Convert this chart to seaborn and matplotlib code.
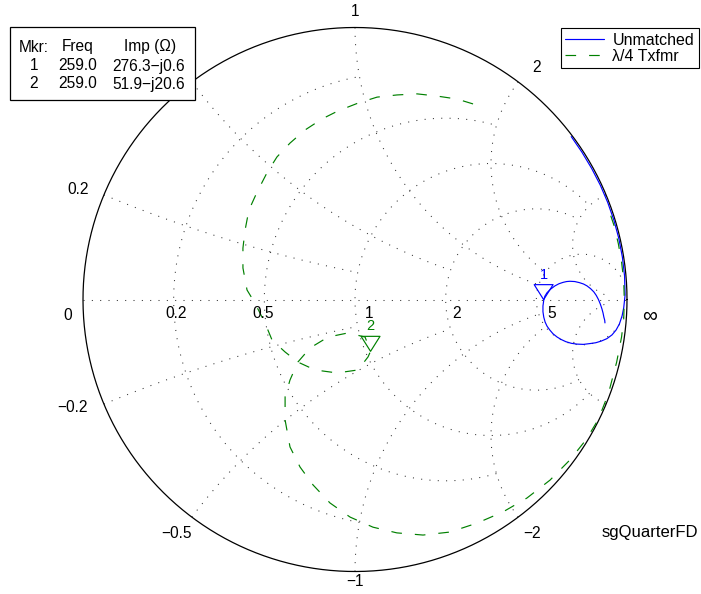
import numpy as np
import pandas as pd
import matplotlib
matplotlib.use("Agg")
import matplotlib.pyplot as plt
import seaborn as sns
from matplotlib.path import Path
from matplotlib.patches import Rectangle

sns.set_theme(style="white")
plt.rcParams['font.family'] = ['Liberation Sans', 'DejaVu Sans']
plt.rcParams['text.color'] = 'black'

# ---------------- data (reflection coefficient) ----------------
unmatched_re = [0.795, 0.834, 0.870, 0.902, 0.929, 0.952, 0.970, 0.983, 0.991, 0.993,
                0.988, 0.982, 0.972, 0.960, 0.945, 0.926, 0.905, 0.885, 0.864, 0.840,
                0.816, 0.795, 0.775, 0.758, 0.743, 0.728, 0.716, 0.706, 0.699, 0.694,
                0.691, 0.691, 0.694, 0.698, 0.706, 0.719, 0.735, 0.750, 0.765, 0.778,
                0.790, 0.808, 0.825, 0.840, 0.853, 0.866, 0.878, 0.887, 0.895, 0.902,
                0.908, 0.912, 0.915, 0.918, 0.919]
unmatched_im = [0.599, 0.542, 0.482, 0.420, 0.357, 0.291, 0.224, 0.156, 0.087, 0.017,
                -0.030, -0.060, -0.090, -0.112, -0.130, -0.144, -0.153, -0.159, -0.162, -0.165,
                -0.164, -0.161, -0.155, -0.147, -0.138, -0.126, -0.112, -0.098, -0.083, -0.065,
                -0.045, -0.024, -0.002, 0.012, 0.025, 0.038, 0.050, 0.058, 0.063, 0.066,
                0.067, 0.066, 0.062, 0.057, 0.050, 0.040, 0.028, 0.015, 0.000, -0.017,
                -0.035, -0.050, -0.065, -0.076, -0.086]

txfmr_re = [0.434, 0.375, 0.301, 0.228, 0.154, 0.081, 0.011, -0.063, -0.121, -0.184,
            -0.239, -0.287, -0.324, -0.360, -0.390, -0.404, -0.412, -0.412, -0.397, -0.368,
            -0.331, -0.305, -0.257, -0.210, -0.147, -0.066, 0.011, 0.048, 0.057, 0.037,
            -0.026, -0.099, -0.165, -0.210, -0.239, -0.257, -0.257, -0.239, -0.202, -0.154,
            -0.092, -0.018, 0.066, 0.154, 0.250, 0.349, 0.449, 0.544, 0.632, 0.717,
            0.790, 0.850, 0.895, 0.932, 0.962, 0.980, 0.988, 0.990, 0.988, 0.980,
            0.968, 0.952, 0.930]
txfmr_im = [0.719, 0.737, 0.748, 0.756, 0.752, 0.744, 0.722, 0.693, 0.664, 0.623,
            0.575, 0.524, 0.465, 0.395, 0.329, 0.256, 0.189, 0.116, 0.035, -0.013,
            -0.086, -0.149, -0.193, -0.230, -0.259, -0.270, -0.259, -0.211, -0.1906, -0.138,
            -0.123, -0.138, -0.178, -0.230, -0.296, -0.358, -0.443, -0.542, -0.616, -0.682,
            -0.748, -0.800, -0.837, -0.858, -0.866, -0.855, -0.822, -0.781, -0.730, -0.664,
            -0.590, -0.515, -0.440, -0.345, -0.230, -0.138, -0.069, 0.000, 0.069, 0.138,
            0.206, 0.273, 0.339]

series_names = ["Unmatched", "λ/4 Txfmr"]

marker_ids = ["1", "2"]
marker_freq = ["259.0", "259.0"]
marker_imp_text = ["276.3\u2212j0.6", "51.9\u2212j20.6"]
marker_Z_re = [276.3, 51.9]
marker_Z_im = [-0.6, -20.6]
Z0 = 50.0

# Smith chart grid values and their end points (chart structure)
grid_values = [0.2, 0.5, 1.0, 2.0, 5.0]
grid_ends = [1.0, 2.0, 5.0, 5.0, 30.0]
r_label_text = ["0.2", "0.5", "1", "2", "5"]

# ---------------- figure ----------------
W, H = 701, 594
fig = plt.figure(figsize=(W / 100, H / 100), dpi=100)
ax = fig.add_axes([0, 0, 1, 1])
CX, CY, R = 355.0, 299.5, 272.0
ax.set_xlim(-CX / R, (W - CX) / R)
ax.set_ylim(-(H - CY) / R, CY / R)
ax.axis("off")


def P(px, py):
    return (px - CX) / R, (CY - py) / R


grid_kw = dict(color="#333333", lw=0.75, linestyle=(0, (1, 7)), zorder=1)

# constant resistance circles
for r, lim in zip(grid_values, grid_ends):
    xs = np.concatenate([-np.logspace(np.log10(lim), -4, 800), np.logspace(-4, np.log10(lim), 800)])
    g = (r + 1j * xs - 1) / (r + 1j * xs + 1)
    ax.plot(g.real, g.imag, **grid_kw)
# constant reactance arcs
for x, lim in zip(grid_values, grid_ends):
    rs = np.linspace(0, lim, 3000)
    for s in (1, -1):
        g = (rs + 1j * s * x - 1) / (rs + 1j * s * x + 1)
        ax.plot(g.real, g.imag, **grid_kw)
ax.plot([-1, 1], [0, 0], **grid_kw)
th = np.linspace(0, 2 * np.pi, 1000)
ax.plot(np.cos(th), np.sin(th), color="black", lw=0.9, zorder=2)

# ---------------- data curves ----------------
df_u = pd.DataFrame({"re": unmatched_re, "im": unmatched_im})
df_t = pd.DataFrame({"re": txfmr_re, "im": txfmr_im})
sns.lineplot(data=df_u, x="re", y="im", sort=False, estimator=None, color="#0000FF",
             lw=0.85, ax=ax, zorder=3)
line_u = ax.lines[-1]
sns.lineplot(data=df_t, x="re", y="im", sort=False, estimator=None, color="#008000",
             lw=0.85, linestyle=(0, (9, 11)), ax=ax, zorder=4)
line_t = ax.lines[-1]
ax.set_xlabel("")
ax.set_ylabel("")

# markers (triangle with tip on the point)
zm = (np.array(marker_Z_re) + 1j * np.array(marker_Z_im)) / Z0
gm = (zm - 1) / (zm + 1)
tri = Path([(-0.63, 1.0), (0.63, 1.0), (0.0, 0.0), (-0.63, 1.0)],
           [Path.MOVETO, Path.LINETO, Path.LINETO, Path.CLOSEPOLY])
mcolors = ["#0000FF", "#008000"]
for i in range(2):
    sns.scatterplot(x=[gm[i].real], y=[gm[i].imag], marker=tri, s=21.6 ** 2, ax=ax,
                    legend=False, zorder=6)
    col = ax.collections[-1]
    col.set_facecolor("none")
    col.set_edgecolor(mcolors[i])
    col.set_linewidth(0.85)
    ax.text(gm[i].real, gm[i].imag + 25 / R, marker_ids[i], color=mcolors[i],
            fontsize=10.5, ha="center", va="center", zorder=7)

# ---------------- grid labels ----------------
lab_kw = dict(fontsize=11.2, ha="center", va="center", color="black", zorder=5)
r_label_px = [176, 263, 369, 457, 552]
for t, px in zip(r_label_text, r_label_px):
    ax.text(*P(px, 313), t, **lab_kw)
ax.text(*P(68, 315), "0", **lab_kw)
ax.text(*P(650, 316), "\u221e", fontsize=15, ha="center", va="center", color="black", zorder=5)
x_labels = [("1", 355, 12), ("2", 537, 68), ("0.2", 78, 190),
            ("\u22120.2", 72, 408), ("\u22120.5", 176, 533), ("\u22122", 532, 533),
            ("\u22121", 355, 582)]
for t, px, py in x_labels:
    ax.text(*P(px, py), t, **lab_kw)
ax.text(*P(602, 533), "sgQuarterFD", fontsize=12, ha="left", va="center", color="black", zorder=5)

# ---------------- marker table ----------------
fig.add_artist(Rectangle((10 / W, 1 - 100 / H), (195 - 10) / W, (100 - 27) / H,
                         transform=fig.transFigure, facecolor="white", edgecolor="black",
                         lw=0.9, zorder=10))
tkw = dict(fontsize=11.2, ha="center", va="center", color="black", zorder=11)
cols_x = [34, 78, 150]
rows_y = [47, 66, 84]
header = ["Mkr:", "Freq", "Imp (\u03a9)"]
for cx, t in zip(cols_x, header):
    fig.text(cx / W, 1 - rows_y[0] / H, t, **tkw)
for i in range(2):
    y = 1 - rows_y[i + 1] / H
    fig.text(cols_x[0] / W, y, marker_ids[i], **tkw)
    fig.text(cols_x[1] / W, y, marker_freq[i], **tkw)
    fig.text(149 / W, y, marker_imp_text[i], **tkw)

# ---------------- legend ----------------
leg = ax.legend([line_u, line_t], series_names, loc="upper right",
                bbox_to_anchor=(699 / W, 1 - 28 / H), bbox_transform=fig.transFigure,
                borderaxespad=0, fontsize=11.5, frameon=True, fancybox=False,
                handlelength=2.4, handletextpad=0.55, labelspacing=0.05, borderpad=0.3)
leg.get_frame().set_edgecolor("black")
leg.get_frame().set_linewidth(0.8)
leg.get_frame().set_alpha(1)
for t in leg.get_texts():
    t.set_color("black")
leg.set_zorder(12)

fig.savefig("out.png", dpi=100, facecolor="white")
